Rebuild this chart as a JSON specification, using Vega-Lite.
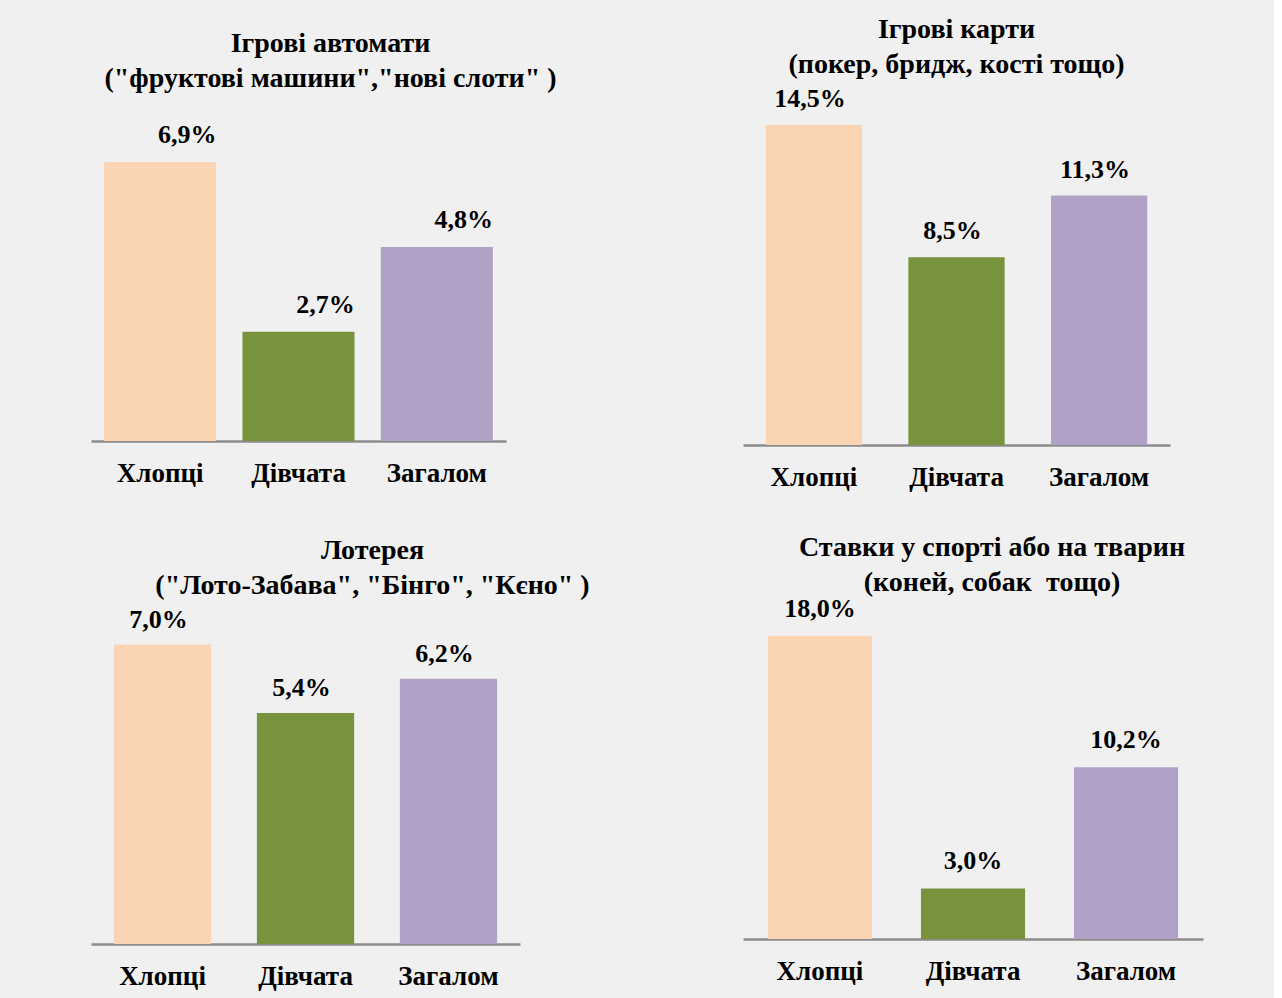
{
  "$schema": "https://vega.github.io/schema/vega-lite/v6.json",
  "background": "#f0f0f0",
  "padding": {"left": 91, "top": 15, "right": 71, "bottom": 9},
  "bounds": "flush",
  "columns": 2,
  "spacing": {"column": 223, "row": 156},
  "config": {
    "locale": {"number": {"decimal": ",", "thousands": " ", "grouping": [3], "currency": ["", ""]}},
    "view": {"stroke": null},
    "font": "Liberation Serif",
    "title": {"font": "Liberation Serif", "fontSize": 28, "fontWeight": "bold", "color": "#000000", "lineHeight": 35, "anchor": "middle"},
    "axisX": {"domainColor": "#8c8c8c", "domainWidth": 2.5, "ticks": false, "tickSize": 0, "labelFont": "Liberation Serif", "labelFontSize": 27, "labelFontWeight": "bold", "labelColor": "#000000", "labelAngle": 0, "labelBaseline": "middle", "labelPadding": 32, "title": null, "grid": false},
    "text": {"font": "Liberation Serif", "fontSize": 26, "fontWeight": "bold", "color": "#000000", "baseline": "middle"}
  },
  "concat": [
    {
      "width": 415, "height": 330,
      "title": {"text": ["Ігрові автомати", "(\"фруктові машини\",\"нові слоти\" )"], "dx": 32, "offset": 18},
      "data": {"values": [
        {"group": "Хлопці", "share": 0.069},
        {"group": "Дівчата", "share": 0.027},
        {"group": "Загалом", "share": 0.048}
      ]},
      "encoding": {
        "x": {"field": "group", "type": "nominal", "sort": null, "scale": {"paddingInner": 0.19, "paddingOuter": 0.095}, "axis": {}},
        "y": {"field": "share", "type": "quantitative", "scale": {"domain": [0, 0.0816], "nice": false, "zero": true}, "axis": null}
      },
      "layer": [
        {"mark": {"type": "bar"}, "encoding": {"color": {"field": "group", "type": "nominal", "scale": {"domain": ["Хлопці", "Дівчата", "Загалом"], "range": ["#fbd4b4", "#77933c", "#b2a1c7"]}, "legend": null}}},
        {"mark": {"type": "text", "dx": 27, "dy": -27}, "encoding": {"text": {"field": "share", "type": "quantitative", "format": ".1%"}}}
      ]
    },
    {
      "width": 427, "height": 334,
      "title": {"text": ["Ігрові карти", "(покер, бридж, кості тощо)"], "dx": 0, "offset": 7},
      "data": {"values": [
        {"group": "Хлопці", "share": 0.145},
        {"group": "Дівчата", "share": 0.085},
        {"group": "Загалом", "share": 0.113}
      ]},
      "encoding": {
        "x": {"field": "group", "type": "nominal", "sort": null, "scale": {"paddingInner": 0.325, "paddingOuter": 0.16}, "axis": {}},
        "y": {"field": "share", "type": "quantitative", "scale": {"domain": [0, 0.1513], "nice": false, "zero": true}, "axis": null}
      },
      "layer": [
        {"mark": {"type": "bar"}, "encoding": {"color": {"field": "group", "type": "nominal", "scale": {"domain": ["Хлопці", "Дівчата", "Загалом"], "range": ["#fbd4b4", "#77933c", "#b2a1c7"]}, "legend": null}}},
        {"mark": {"type": "text", "dx": -4, "dy": -26}, "encoding": {"text": {"field": "share", "type": "quantitative", "format": ".1%"}}}
      ]
    },
    {
      "width": 429, "height": 343,
      "title": {"text": ["Лотерея", "(\"Лото-Забава\", \"Бінго\", \"Кєно\" )"], "dx": 67, "offset": 1},
      "data": {"values": [
        {"group": "Хлопці", "share": 0.070},
        {"group": "Дівчата", "share": 0.054},
        {"group": "Загалом", "share": 0.062}
      ]},
      "encoding": {
        "x": {"field": "group", "type": "nominal", "sort": null, "scale": {"paddingInner": 0.32, "paddingOuter": 0.16}, "axis": {}},
        "y": {"field": "share", "type": "quantitative", "scale": {"domain": [0, 0.0802], "nice": false, "zero": true}, "axis": null}
      },
      "layer": [
        {"mark": {"type": "bar"}, "encoding": {"color": {"field": "group", "type": "nominal", "scale": {"domain": ["Хлопці", "Дівчата", "Загалом"], "range": ["#fbd4b4", "#77933c", "#b2a1c7"]}, "legend": null}}},
        {"mark": {"type": "text", "dx": -4, "dy": -25}, "encoding": {"text": {"field": "share", "type": "quantitative", "format": ".1%"}}}
      ]
    },
    {
      "width": 460, "height": 338,
      "title": {"text": ["Ставки у спорті або на тварин", "(коней, собак\u00a0 тощо)"], "dx": 19, "offset": -1},
      "data": {"values": [
        {"group": "Хлопці", "share": 0.180},
        {"group": "Дівчата", "share": 0.030},
        {"group": "Загалом", "share": 0.102}
      ]},
      "encoding": {
        "x": {"field": "group", "type": "nominal", "sort": null, "scale": {"paddingInner": 0.32, "paddingOuter": 0.163}, "axis": {}},
        "y": {"field": "share", "type": "quantitative", "scale": {"domain": [0, 0.2006], "nice": false, "zero": true}, "axis": null}
      },
      "layer": [
        {"mark": {"type": "bar"}, "encoding": {"color": {"field": "group", "type": "nominal", "scale": {"domain": ["Хлопці", "Дівчата", "Загалом"], "range": ["#fbd4b4", "#77933c", "#b2a1c7"]}, "legend": null}}},
        {"mark": {"type": "text", "dx": 0, "dy": -27}, "encoding": {"text": {"field": "share", "type": "quantitative", "format": ".1%"}}}
      ]
    }
  ]
}
